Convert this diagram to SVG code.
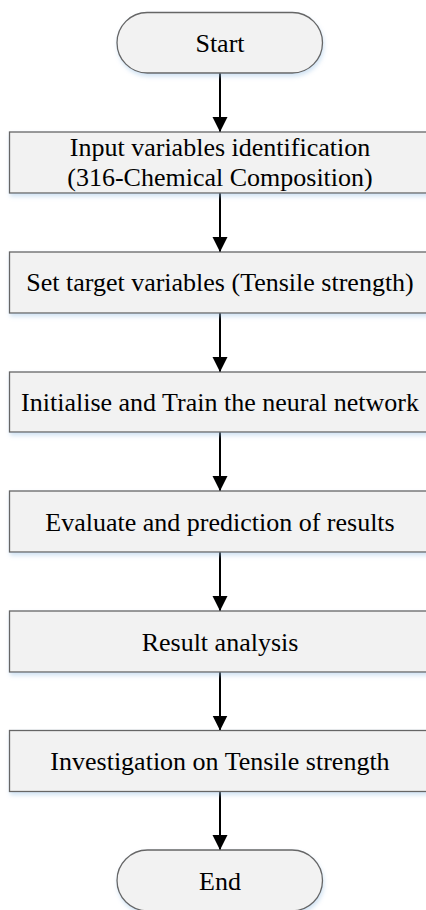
<svg xmlns="http://www.w3.org/2000/svg" width="426" height="910" viewBox="0 0 426 910">
<defs>
<style>
.box{fill:#f2f2f2;stroke:#666;stroke-width:1.3;filter:url(#sh)}
.t{font-size:26px;fill:#000;text-anchor:middle}
.c{stroke:#000;stroke-width:2;fill:none;marker-end:url(#ah)}
</style>
<filter id="sh" x="-10%" y="-20%" width="120%" height="150%">
<feDropShadow dx="1" dy="3" stdDeviation="2" flood-color="#9dc3e6" flood-opacity="0.45"/>
</filter>
<marker id="ah" markerUnits="userSpaceOnUse" markerWidth="16" markerHeight="16" viewBox="0 0 16 16" refX="15" refY="8" orient="auto">
<path d="M0,0.5 L15,8 L0,15.5 Z" fill="#000"/>
</marker>
</defs>
<rect width="426" height="910" fill="#fff"/>
<g id="connectors">
<line class="c" x1="220" y1="73" x2="220" y2="132"/>
<line class="c" x1="220" y1="193" x2="220" y2="252"/>
<line class="c" x1="220" y1="313" x2="220" y2="372"/>
<line class="c" x1="220" y1="432" x2="220" y2="491"/>
<line class="c" x1="220" y1="552" x2="220" y2="611"/>
<line class="c" x1="220" y1="672" x2="220" y2="730.5"/>
<line class="c" x1="220" y1="791.5" x2="220" y2="850"/>
</g>
<g font-family="'Liberation Serif', serif">
<g id="start">
<rect class="box" x="117" y="12.5" width="205.5" height="60.5" rx="30.25"/>
<text class="t" x="220" y="52">Start</text>
</g>
<g id="input">
<rect class="box" x="9.5" y="132" width="421" height="61"/>
<text class="t" x="220" y="155.5">Input variables identification</text>
<text class="t" x="220" y="185.5">(316-Chemical Composition)</text>
</g>
<g id="target">
<rect class="box" x="9.5" y="252" width="421" height="61"/>
<text class="t" x="220" y="291">Set target variables (Tensile strength)</text>
</g>
<g id="train">
<rect class="box" x="9.5" y="372" width="421" height="60"/>
<text class="t" x="220" y="411">Initialise and Train the neural network</text>
</g>
<g id="evaluate">
<rect class="box" x="9.5" y="491" width="421" height="61"/>
<text class="t" x="220" y="530.5">Evaluate and prediction of results</text>
</g>
<g id="analysis">
<rect class="box" x="9.5" y="611" width="421" height="61"/>
<text class="t" x="220" y="650.5">Result analysis</text>
</g>
<g id="investigation">
<rect class="box" x="9.5" y="730.5" width="421" height="61"/>
<text class="t" x="220" y="770">Investigation on Tensile strength</text>
</g>
<g id="end">
<rect class="box" x="117" y="850" width="205.5" height="61" rx="30.5"/>
<text class="t" x="220" y="889.5">End</text>
</g>
</g>
</svg>
